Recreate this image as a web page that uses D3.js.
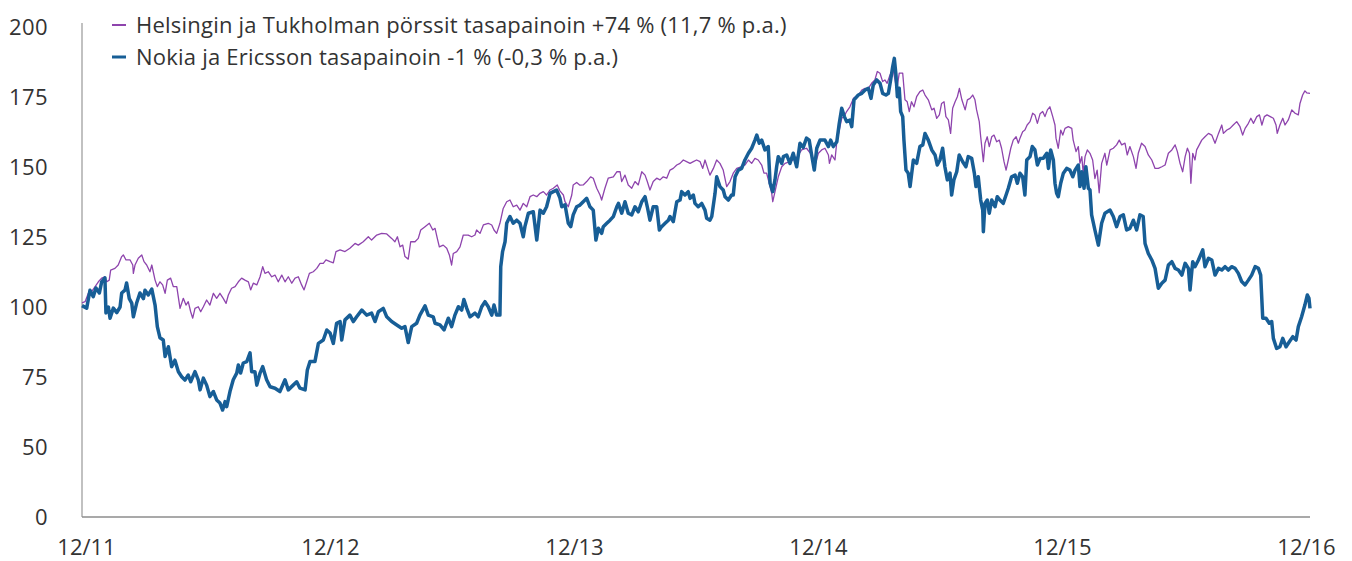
<!DOCTYPE html>
<html>
<head>
<meta charset="utf-8">
<script src="https://cdn.jsdelivr.net/npm/d3@7"></script>
<style>
  html, body { margin: 0; padding: 0; background: #fff; }
  svg { display: block; }
  text { font-family: "Open Sans", Lato, sans-serif; fill: #333; }
</style>
</head>
<body>
<svg id="chart" width="1352" height="561"></svg>
<script>
// ---- Data (x = months since 12/2011) ----
const xTickMonths = [0, 12, 24, 36, 48, 60];
const xTickLabels = ["12/11", "12/12", "12/13", "12/14", "12/15", "12/16"];
const yTickValues = [0, 50, 75, 100, 125, 150, 175, 200];
const yTickLabels = ["0", "50", "75", "100", "125", "150", "175", "200"];
const seriesNames = [
  "Helsingin ja Tukholman pörssit tasapainoin +74 % (11,7 % p.a.)",
  "Nokia ja Ericsson tasapainoin -1 % (-0,3 % p.a.)"
];

// Helsinki & Stockholm equal weighted (purple)
const indexSeries = [
[0,101.5],[0.15,101.9],[0.31,104.9],[0.47,105.5],[0.64,107.3],[0.8,109],[0.96,110.3],[1.12,110.8],[1.21,109],[1.33,109.6],
[1.4,113.2],[1.61,113.8],[1.77,115],[1.94,118],[2.02,118.6],[2.15,116.8],[2.35,116.8],[2.48,115],[2.51,112],[2.59,115],
[2.75,117.4],[2.92,118.6],[3.03,116.2],[3.16,115],[3.32,112.6],[3.41,115],[3.57,109.6],[3.68,107.3],[3.81,109],[3.94,107.9],
[4.06,104.9],[4.17,109.6],[4.33,110.3],[4.46,107.3],[4.63,107.3],[4.79,99.5],[4.95,103.1],[5.08,100.7],[5.19,101.9],[5.31,98.3],
[5.41,96],[5.52,99.5],[5.68,100.1],[5.8,98.3],[5.93,100.1],[6.09,102.5],[6.25,100.7],[6.42,104.9],[6.58,103.1],[6.74,104.9],
[6.9,103.1],[7.04,101.3],[7.15,104.3],[7.31,106.7],[7.48,107.3],[7.64,109],[7.8,110.3],[7.96,109.6],[8.13,109],[8.24,106.1],
[8.37,108.5],[8.54,107.9],[8.7,110.8],[8.83,114.4],[8.94,112],[9.1,112.6],[9.27,110.8],[9.43,111.4],[9.59,109],[9.76,111.4],
[9.92,109],[10.08,110.8],[10.25,108.5],[10.41,110.3],[10.57,110.8],[10.73,107.9],[10.85,106.1],[10.98,109],[11.11,112],[11.3,112.6],
[11.47,113.8],[11.63,115.6],[11.79,115.6],[11.92,116.8],[12.12,116.2],[12.28,115.8],[12.41,119.8],[12.61,120.4],[12.85,119.8],[13.09,121],
[13.34,122.7],[13.5,122.1],[13.74,123.3],[13.99,125.1],[14.15,123.9],[14.4,125.7],[14.64,126.3],[14.89,126.1],[15.13,124.5],[15.29,123.3],
[15.41,125.1],[15.54,121.5],[15.67,122.1],[15.78,118],[15.94,117.1],[16.06,123.3],[16.27,123.3],[16.43,124.5],[16.55,127.5],[16.76,128.7],
[16.97,129.9],[17.14,127.5],[17.25,128.1],[17.36,124.5],[17.46,121.5],[17.65,122.1],[17.82,121],[17.95,118.6],[18.06,115],[18.14,119.1],
[18.31,119.8],[18.47,121.5],[18.63,125.7],[18.87,125.7],[19.04,125.1],[19.2,125.7],[19.28,127.5],[19.45,126.3],[19.61,129.3],[19.85,129.9],
[20.02,129.3],[20.13,127.5],[20.26,126.3],[20.42,129.9],[20.58,135.2],[20.75,137.6],[20.91,138.2],[21.07,135.8],[21.24,136.4],[21.4,134.6],
[21.56,137],[21.73,135.8],[21.89,139.4],[22.05,140],[22.22,139.4],[22.38,140.6],[22.54,141.2],[22.7,140],[22.87,141.8],[23.03,142.4],
[23.22,143.6],[23.35,141.5],[23.52,140],[23.6,137.6],[23.76,135.8],[23.93,140],[24,143.6],[24.17,144.5],[24.33,143.5],[24.49,143.6],
[24.66,144.8],[24.85,146.5],[24.98,146],[25.15,142.4],[25.31,140],[25.39,138.2],[25.55,142.4],[25.71,146],[25.96,146.5],[26.13,148.3],
[26.29,148.3],[26.37,144.8],[26.53,147.1],[26.69,143.6],[26.86,142.4],[27.02,144.8],[27.18,143.6],[27.35,148.3],[27.51,147.1],[27.62,144.8],
[27.75,141.8],[27.91,144.8],[28.08,146],[28.24,145.4],[28.4,146.5],[28.57,146],[28.73,148.9],[28.89,149.5],[29.06,150.7],[29.22,151.3],
[29.38,152.5],[29.54,151.9],[29.71,151.3],[29.87,151.9],[30.03,152.5],[30.2,151.9],[30.33,149.5],[30.44,152.5],[30.6,148.9],[30.68,147.1],
[30.85,149.5],[31.01,152.5],[31.17,151.3],[31.33,148.9],[31.5,143],[31.66,144.8],[31.82,147.8],[31.99,149.5],[32.23,150.1],[32.39,150.7],
[32.56,152.5],[32.72,151.3],[32.88,153.1],[33.04,152.5],[33.21,150.7],[33.32,147.8],[33.45,147.8],[33.58,144.2],[33.7,140.6],[33.75,137.6],
[33.86,141.2],[34.02,146.5],[34.19,150.1],[34.35,151.3],[34.59,151.9],[34.75,152.5],[34.95,153.7],[35.16,156.1],[35.4,156.7],[35.65,154.3],
[35.77,149.5],[35.98,154.9],[36.14,156.1],[36.3,156.7],[36.47,154.3],[36.52,151.3],[36.63,154.3],[36.74,153.1],[36.79,152.5],[36.88,159],
[37,163.2],[37.12,167.4],[37.23,168],[37.36,169.8],[37.52,171.5],[37.69,174.5],[37.93,175.7],[38.1,177.5],[38.26,178.1],[38.42,178.1],
[38.58,179.9],[38.74,181.1],[38.86,184.1],[38.99,183.5],[39.12,180.5],[39.23,181.1],[39.34,179.9],[39.48,182.9],[39.64,184.5],[39.81,177.5],
[39.93,183.5],[40.1,183.5],[40.21,174],[40.32,173.3],[40.42,169.8],[40.53,173.3],[40.65,171.5],[40.78,175.1],[40.94,176.9],[41.08,177.5],
[41.19,175.7],[41.35,174],[41.52,170.4],[41.63,171],[41.76,167.4],[41.89,168.6],[42,172.7],[42.12,173.3],[42.21,168],[42.33,166.8],
[42.44,162],[42.54,171],[42.66,173.3],[42.77,175.1],[42.87,178.1],[42.99,174],[43.15,170.4],[43.26,174],[43.39,174.5],[43.52,175.7],
[43.63,174],[43.71,170.4],[43.84,166.2],[43.91,160.8],[44.04,151.9],[44.12,158.5],[44.23,160.8],[44.33,157.3],[44.45,160.8],[44.56,161.4],
[44.69,159],[44.82,159.6],[44.93,156.7],[45.05,151.9],[45.15,148.9],[45.26,152.5],[45.38,156.7],[45.5,159.6],[45.64,160.8],[45.75,158.5],
[45.83,160.3],[45.96,162.6],[46.07,163.2],[46.18,165],[46.32,166.2],[46.45,169.2],[46.56,168.6],[46.68,165.6],[46.81,169],[46.94,169.8],
[47.05,168],[47.17,170.4],[47.29,171.5],[47.43,168],[47.54,165],[47.59,160.3],[47.7,156.7],[47.82,163.2],[47.92,161.4],[48.03,163.8],
[48.19,164.4],[48.36,163.8],[48.43,159.6],[48.57,155.5],[48.68,157.3],[48.76,151.3],[48.85,153.7],[48.92,147.8],[49.01,153.7],[49.12,156.1],
[49.25,154.9],[49.38,152.5],[49.49,145.9],[49.6,148.9],[49.7,140.8],[49.82,151.3],[49.98,154.9],[50.07,150.7],[50.23,156.1],[50.39,156.7],
[50.55,157.9],[50.68,159.6],[50.8,157.9],[50.96,158.5],[51.07,154.3],[51.2,157.3],[51.37,153.7],[51.5,149.5],[51.61,154.9],[51.77,158.5],
[51.94,157.3],[52.1,154.3],[52.27,152.5],[52.43,149.5],[52.59,149.5],[52.76,150.1],[52.92,150.7],[53.08,154.9],[53.25,156.1],[53.41,157.9],
[53.52,155.5],[53.65,151.3],[53.78,148.3],[53.9,153.7],[54.01,156.7],[54.11,154.9],[54.18,144.2],[54.27,154.9],[54.38,152.5],[54.46,156.1],
[54.59,157.9],[54.71,159.6],[54.87,160.8],[55.04,162],[55.2,161.4],[55.36,158.5],[55.53,162],[55.69,165],[55.77,162],[55.94,163.2],
[56.09,163.8],[56.25,165],[56.42,166.2],[56.58,164.4],[56.71,161.4],[56.83,163.8],[56.99,165.6],[57.11,167.4],[57.24,165.6],[57.4,168],
[57.53,168.6],[57.65,165],[57.77,168],[57.9,168.6],[58.06,168],[58.21,167.4],[58.34,165],[58.4,162],[58.53,165],[58.67,167.4],
[58.78,165],[58.94,166.8],[59.11,170.4],[59.27,169.2],[59.43,168.6],[59.51,172.7],[59.64,175.7],[59.75,177.2],[59.84,176.5],[60,176.3]
];

// Nokia & Ericsson equal weighted (blue)
const telecomSeries = [
[0,100.5],[0.23,99.6],[0.39,106],[0.55,103.7],[0.68,106.8],[0.85,105],[0.96,109],[1.12,110.4],[1.17,97.9],[1.29,100],
[1.37,96],[1.53,99.6],[1.7,98],[1.86,100],[1.94,105],[2.1,106],[2.18,108.6],[2.31,103],[2.43,101.4],[2.51,96.5],
[2.67,101.4],[2.83,105],[3,103],[3.08,106],[3.24,104.3],[3.41,106.4],[3.57,100.7],[3.68,93],[3.81,89],[3.97,88.2],
[4.06,82.3],[4.22,85.8],[4.38,78.7],[4.54,81],[4.71,76.9],[4.87,75.1],[5.03,73.9],[5.19,75.7],[5.31,73.3],[5.52,76.9],
[5.68,74],[5.77,70.4],[5.93,74.6],[6.09,72.1],[6.25,68],[6.42,69.8],[6.58,66.8],[6.74,65.7],[6.87,63.2],[6.99,66.2],
[7.07,64.4],[7.23,69.8],[7.39,74],[7.56,76.4],[7.64,79.3],[7.75,76.4],[7.88,80],[8.05,80.5],[8.21,83.6],[8.29,76.9],
[8.45,76.9],[8.54,72.1],[8.7,76.4],[8.83,78.7],[9.02,74],[9.19,71.5],[9.43,71],[9.67,69.8],[9.92,74],[10.08,70.4],
[10.32,72.1],[10.49,73.3],[10.65,71],[10.9,70.4],[11.01,77.5],[11.14,80.5],[11.38,80.5],[11.55,87],[11.79,88.2],[11.96,91.8],
[12.12,90.7],[12.28,87],[12.44,94.2],[12.61,94.8],[12.69,88.2],[12.85,95.4],[13.09,97.1],[13.26,94.8],[13.42,96.5],[13.67,98.9],
[13.91,97.1],[14.15,97.8],[14.32,94.8],[14.48,98.3],[14.72,99.5],[14.89,96.5],[15.13,94.8],[15.38,93.6],[15.62,92.4],[15.78,93],
[15.94,87.3],[16.11,93],[16.35,94.2],[16.51,97.1],[16.76,100.4],[16.92,97.1],[17.16,96.5],[17.25,94.2],[17.49,93.6],[17.69,91.8],
[17.9,96],[18.06,93],[18.22,97.1],[18.39,100.1],[18.55,98.9],[18.66,102.7],[18.8,99.5],[18.96,96.5],[19.2,97.8],[19.36,96.5],
[19.53,100.1],[19.69,101.9],[19.85,100.1],[20.02,97.1],[20.13,100.7],[20.26,97.1],[20.42,97.1],[20.46,114.4],[20.55,119.8],[20.67,123.3],
[20.75,129.9],[20.91,132.3],[21.07,129.9],[21.24,131],[21.4,129.9],[21.56,125.1],[21.64,128.7],[21.81,133.5],[22.05,134],[22.22,123.9],
[22.38,134.6],[22.54,133.5],[22.7,135.8],[22.87,140.6],[23.03,141.2],[23.19,141.8],[23.35,139],[23.44,135.8],[23.6,136.5],[23.76,129.9],
[23.88,128.7],[24,132.9],[24.17,135.8],[24.33,136.4],[24.49,137.6],[24.66,138.8],[24.82,135.8],[24.98,134.6],[25.11,123.9],[25.23,128.1],
[25.39,126.3],[25.47,128.7],[25.64,129.9],[25.8,131],[25.96,132.3],[26.13,135.8],[26.21,137],[26.37,133.5],[26.53,137.6],[26.69,133.5],
[26.86,132.9],[27.02,135.8],[27.18,134],[27.35,137.6],[27.51,139.4],[27.62,135.8],[27.75,131],[27.91,135.8],[28.08,135.8],[28.21,127.5],
[28.32,128.7],[28.49,129.9],[28.65,131],[28.73,132.3],[28.89,130.5],[29.06,137.6],[29.22,138.2],[29.3,141.2],[29.46,140],[29.62,141.2],
[29.71,138.8],[29.87,140],[29.95,137],[30.11,135.8],[30.28,137],[30.44,134.6],[30.52,131.7],[30.68,131],[30.77,132.3],[30.93,140.6],
[31.01,146.5],[31.17,143],[31.33,141.8],[31.42,139.4],[31.58,138.2],[31.74,140],[31.82,140],[31.91,146.5],[32.07,148.9],[32.23,149.5],
[32.39,152.5],[32.56,154.9],[32.72,156.7],[32.88,159.6],[32.97,161.4],[33.09,158.5],[33.21,159.6],[33.37,156.1],[33.53,157.3],[33.62,144.2],
[33.75,141.2],[33.86,145.4],[33.94,150.1],[34.02,153.7],[34.19,151.3],[34.27,153.7],[34.43,154.3],[34.59,151.3],[34.75,154.9],[34.92,150.1],
[35.08,158.5],[35.24,157],[35.4,160.3],[35.53,159.6],[35.65,154.3],[35.78,148.9],[35.9,156.7],[36.06,159.6],[36.14,159.6],[36.3,159.6],
[36.47,157.3],[36.58,159.6],[36.71,157.3],[36.88,159],[37,165.6],[37.12,171],[37.25,168],[37.36,166.2],[37.52,166.8],[37.61,164.4],
[37.72,174],[37.93,175.7],[38.1,176.3],[38.26,177.5],[38.42,178.1],[38.55,174.5],[38.66,179.3],[38.83,181.1],[38.99,179.9],[39.12,176.3],
[39.28,175.7],[39.4,176.3],[39.51,181.1],[39.61,185.8],[39.69,188.8],[39.77,182.9],[39.84,175.1],[39.93,178.1],[40,169.8],[40.1,168],
[40.16,159.6],[40.26,148.9],[40.37,147.8],[40.46,143],[40.62,152.5],[40.78,151.3],[40.94,157.3],[41.08,157.9],[41.19,162],[41.35,159.6],
[41.52,156.1],[41.68,154.3],[41.79,150.7],[41.92,152.5],[42.05,156.7],[42.16,150.1],[42.28,145.4],[42.41,147.8],[42.49,140],[42.6,145.4],
[42.74,148.3],[42.86,154.3],[43.03,151.9],[43.19,150.1],[43.3,153.7],[43.47,153.1],[43.6,147.8],[43.68,143],[43.79,146.5],[43.91,138.2],
[44.01,134.6],[44.04,126.9],[44.12,137],[44.23,138.2],[44.33,133.5],[44.45,138.2],[44.61,135.8],[44.72,139.4],[44.85,138.2],[45.01,137],
[45.15,140],[45.26,142.4],[45.42,146.5],[45.59,147.1],[45.7,144.2],[45.83,147.8],[45.96,146.5],[46.07,140],[46.16,152.5],[46.32,153.7],
[46.43,157.3],[46.56,156.1],[46.68,150.7],[46.81,153],[46.97,153.1],[47.14,154.9],[47.22,149.5],[47.33,156.1],[47.46,152.5],[47.54,144.2],
[47.62,140.6],[47.7,139.4],[47.82,144.2],[47.95,147.8],[48.11,149.5],[48.27,148.9],[48.41,146.5],[48.52,148.9],[48.68,150.7],[48.76,143],
[48.85,148.3],[48.96,142.4],[49.05,150.1],[49.17,142.4],[49.25,141.8],[49.33,132.9],[49.49,127.5],[49.66,122.1],[49.82,129.9],[49.98,133.5],
[50.23,134.6],[50.39,132.3],[50.55,128.7],[50.72,132.3],[50.88,132.9],[51.04,127.5],[51.2,128.1],[51.37,131],[51.53,127.5],[51.69,132.9],
[51.85,132.3],[51.94,122.7],[52.1,119.1],[52.27,116.8],[52.43,113.8],[52.59,106.7],[52.76,108.5],[52.92,109.6],[53.08,115],[53.25,116.2],
[53.41,113.8],[53.57,113.2],[53.74,111.4],[53.9,115.6],[54.06,113.8],[54.14,106.1],[54.27,116.2],[54.38,114.4],[54.55,116.8],[54.76,120.4],
[54.87,114.4],[55.04,117.4],[55.2,116.8],[55.36,111.4],[55.53,113.8],[55.69,113.2],[55.85,114.4],[56.01,113.2],[56.17,114.4],[56.34,113.8],
[56.5,112],[56.66,109.1],[56.83,107.9],[56.99,109.6],[57.15,111.4],[57.32,114.4],[57.48,113.8],[57.59,111.4],[57.69,96],[57.85,96],
[58.01,94.2],[58.13,94.8],[58.21,88.8],[58.37,85.2],[58.53,85.8],[58.67,88.8],[58.83,85.8],[58.99,87.6],[59.16,89.4],[59.32,88.2],
[59.43,93],[59.59,96.5],[59.75,100.7],[59.87,104.3],[59.95,103.1],[60,99.5]
];

const seriesColors = ["#8e44ad", "#175e96"];
const fontStack = "'Open Sans', Lato, sans-serif";

// ---- Chart ----
const svg = d3.select("#chart");

const x = d3.scaleLinear().domain([0, 60]).range([82, 1310]);
const xLabel = d3.scaleLinear().domain([0, 60]).range([86, 1306]);
// broken axis: 0..50 compressed
const y = d3.scaleLinear().domain([0, 50, 201.43]).range([517, 447, 23]);

// axis lines
svg.append("line")
  .attr("x1", x(0)).attr("x2", x(0))
  .attr("y1", y(201.43)).attr("y2", y(0))
  .attr("stroke", "#a0a0a0").attr("stroke-width", 1.3);
svg.append("line")
  .attr("x1", x(0)).attr("x2", x(60))
  .attr("y1", y(0)).attr("y2", y(0))
  .attr("stroke", "#8c8c8c").attr("stroke-width", 1.3);

// y axis labels
const yAxis = d3.axisLeft(y)
  .tickValues(yTickValues)
  .tickFormat((d, i) => yTickLabels[i])
  .tickSize(0)
  .tickPadding(34);
const gy = svg.append("g").attr("transform", `translate(${x(0)},0)`).call(yAxis);
gy.select(".domain").remove();
gy.selectAll("text")
  .style("font-family", fontStack)
  .style("font-size", "22px")
  .style("letter-spacing", "0.4px")
  .attr("fill", "#333");

// x axis labels
const xAxis = d3.axisBottom(xLabel)
  .tickValues(xTickMonths)
  .tickFormat((d, i) => xTickLabels[i])
  .tickSize(0)
  .tickPadding(0);
const gx = svg.append("g").attr("transform", `translate(0,${y(0)})`).call(xAxis);
gx.select(".domain").remove();
gx.selectAll("text")
  .attr("dy", null)
  .attr("y", 38)
  .style("font-family", fontStack)
  .style("font-size", "22px")
  .attr("fill", "#333");

// lines
const line = d3.line().x(d => x(d[0])).y(d => y(d[1]));
svg.append("path")
  .datum(indexSeries)
  .attr("fill", "none")
  .attr("stroke", seriesColors[0])
  .attr("stroke-width", 1.3)
  .attr("stroke-linejoin", "round")
  .attr("d", line);
svg.append("path")
  .datum(telecomSeries)
  .attr("fill", "none")
  .attr("stroke", seriesColors[1])
  .attr("stroke-width", 3.5)
  .attr("stroke-linejoin", "round")
  .attr("d", line);

// legend
const legend = svg.append("g");
seriesNames.forEach((name, i) => {
  const cy = 25 + i * 32;
  legend.append("line")
    .attr("x1", 112).attr("x2", 126)
    .attr("y1", cy).attr("y2", cy)
    .attr("stroke", seriesColors[i])
    .attr("stroke-width", i === 0 ? 2 : 3);
  legend.append("text")
    .attr("x", 136).attr("y", cy + 8)
    .style("font-family", fontStack)
    .style("font-size", "22px")
    .style("letter-spacing", "0.22px")
    .attr("fill", "#333")
    .text(name);
});
</script>
</body>
</html>
